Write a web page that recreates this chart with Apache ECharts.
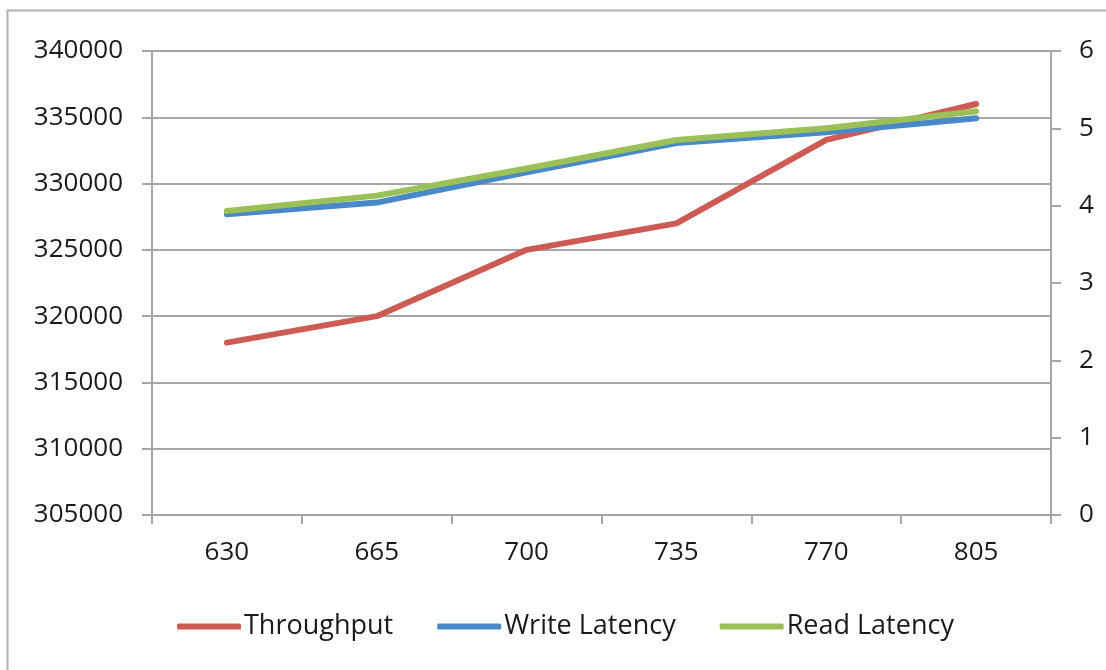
<!DOCTYPE html>
<html>
<head>
<meta charset="utf-8">
<script src="https://cdn.jsdelivr.net/npm/echarts@6/dist/echarts.min.js"></script>
<style>
html,body{margin:0;padding:0;background:#fff;}
#chart{width:1106px;height:670px;}
</style>
</head>
<body>
<div id="chart"></div>
<script>
const categories = ['630', '665', '700', '735', '770', '805'];
const throughput = [318000, 320000, 325000, 327000, 333300, 336000];
const writeLatency = [3.89, 4.04, 4.43, 4.81, 4.95, 5.13];
const readLatency = [3.93, 4.13, 4.48, 4.85, 5.0, 5.22];
const seriesNames = ['Throughput', 'Write Latency', 'Read Latency'];
const colors = ['#CD5B53', '#4A89C8', '#9BC058'];

const font = 'Open Sans, Liberation Sans, sans-serif';
const gray = '#A6A6A6';
const axisLine = { show: true, lineStyle: { color: gray, width: 2 } };
const labelStyle = { fontFamily: font, fontSize: 26, color: '#1a1a1a' };
const chart = echarts.init(document.getElementById('chart'));
chart.setOption({
  animation: false,
  color: colors,
  graphic: [{
    type: 'rect',
    shape: { x: 7.5, y: 10.5, width: 1120, height: 700 },
    style: { fill: 'none', stroke: '#B0B0B0', lineWidth: 2 }
  }],
  grid: { left: 152, right: 55, top: 51, bottom: 155, containLabel: false },
  legend: {
    top: 608,
    left: 172,
    itemWidth: 64,
    itemHeight: 6,
    itemGap: 44,
    icon: 'roundRect',
    textStyle: { fontFamily: font, fontSize: 27, color: '#1a1a1a', padding: [0, 0, 0, -2] },
    data: seriesNames
  },
  xAxis: {
    type: 'category',
    data: categories,
    boundaryGap: true,
    axisLine: axisLine,
    axisTick: { show: true, length: 9, inside: false, lineStyle: { color: gray, width: 2 } },
    axisLabel: Object.assign({ margin: 25 }, labelStyle)
  },
  yAxis: [{
    type: 'value',
    min: 305000, max: 340000, interval: 5000,
    axisLine: axisLine,
    axisTick: { show: true, length: 10, lineStyle: { color: gray, width: 2 } },
    axisLabel: Object.assign({ margin: 29, formatter: v => String(v) }, labelStyle),
    splitLine: { show: true, lineStyle: { color: gray, width: 2 } }
  }, {
    type: 'value',
    min: 0, max: 6, interval: 1,
    position: 'right',
    axisLine: axisLine,
    axisTick: { show: true, length: 10, lineStyle: { color: gray, width: 2 } },
    axisLabel: Object.assign({ margin: 28, formatter: v => String(v) }, labelStyle),
    splitLine: { show: false }
  }],
  series: [{
    name: seriesNames[0], type: 'line', yAxisIndex: 0, data: throughput,
    symbol: 'none', lineStyle: { width: 6, cap: 'round', join: 'round' }
  }, {
    name: seriesNames[1], type: 'line', yAxisIndex: 1, data: writeLatency,
    symbol: 'none', lineStyle: { width: 6, cap: 'round', join: 'round' }
  }, {
    name: seriesNames[2], type: 'line', yAxisIndex: 1, data: readLatency,
    symbol: 'none', lineStyle: { width: 6, cap: 'round', join: 'round' }
  }]
});
</script>
</body>
</html>
